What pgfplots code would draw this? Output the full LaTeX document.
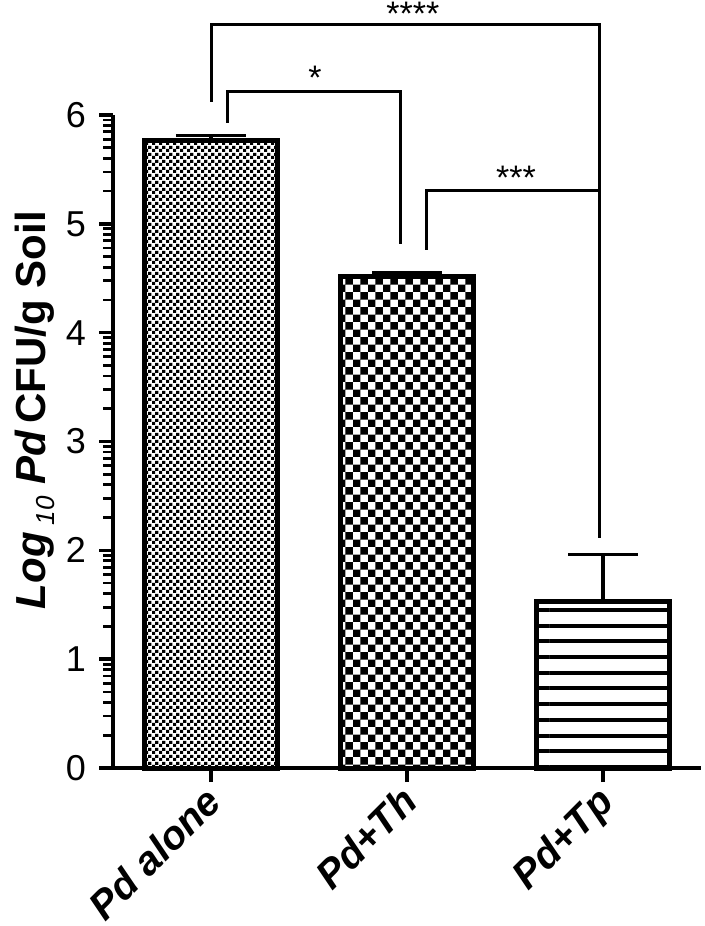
\documentclass[border=0pt]{standalone}
\usepackage{fontspec}
\setmainfont{Liberation Sans}
\usepackage{pgfplots}
\pgfplotsset{compat=1.18}
\usetikzlibrary{patterns}

% fill patterns of the three bars
\pgfdeclarepatternformonly{finecheck}{\pgfpointorigin}{\pgfqpoint{3.3pt}{3.3pt}}{\pgfqpoint{3.3pt}{3.3pt}}{%
  \pgfpathrectangle{\pgfpointorigin}{\pgfqpoint{1.65pt}{1.65pt}}%
  \pgfpathrectangle{\pgfqpoint{1.65pt}{1.65pt}}{\pgfqpoint{1.65pt}{1.65pt}}%
  \pgfusepath{fill}}
\pgfdeclarepatternformonly{coarsecheck}{\pgfpointorigin}{\pgfqpoint{7.7pt}{7.7pt}}{\pgfqpoint{7.7pt}{7.7pt}}{%
  \pgfpathrectangle{\pgfpointorigin}{\pgfqpoint{3.85pt}{3.85pt}}%
  \pgfpathrectangle{\pgfqpoint{3.85pt}{3.85pt}}{\pgfqpoint{3.85pt}{3.85pt}}%
  \pgfusepath{fill}}
\pgfdeclarepatternformonly{hlines}{\pgfqpoint{-0.1pt}{0pt}}{\pgfqpoint{7.95pt}{7.85pt}}{\pgfqpoint{7.85pt}{7.85pt}}{%
  \pgfpathrectangle{\pgfqpoint{-0.1pt}{0pt}}{\pgfqpoint{8.05pt}{2pt}}%
  \pgfusepath{fill}}

\begin{document}
\begin{tikzpicture}
\begin{axis}[
  at={(0,0)}, anchor=south west,
  scale only axis, width=294pt, height=326.5pt,
  xmin=-0.5, xmax=2.5, ymin=0, ymax=6,
  axis x line=bottom, axis y line=left,
  axis line style={-, line width=2.3pt},
  xtick={0,1,2}, xticklabels={Pd alone, Pd+Th, Pd+Tp},
  ytick={0,1,2,3,4,5,6},
  minor ytick={0.301,0.477,0.602,0.699,0.778,0.845,0.903,0.954,
    1.301,1.477,1.602,1.699,1.778,1.845,1.903,1.954,
    2.301,2.477,2.602,2.699,2.778,2.845,2.903,2.954,
    3.301,3.477,3.602,3.699,3.778,3.845,3.903,3.954,
    4.301,4.477,4.602,4.699,4.778,4.845,4.903,4.954,
    5.301,5.477,5.602,5.699,5.778,5.845,5.903,5.954},
  tick align=outside,
  major tick length=7pt, minor tick length=5pt,
  every major tick/.style={black, line width=1.8pt},
  every minor tick/.style={black, line width=1.4pt},
  x tick label style={xshift=-4pt, yshift=4pt, rotate=45, anchor=north east, font=\fontsize{20}{20}\selectfont\bfseries\itshape},
  y tick label style={xshift=-3pt, font=\fontsize{18}{18}\selectfont},
  /pgf/number format/assume math mode=true,
  ylabel={\textit{Log}\,\raisebox{-0.4ex}{\fontsize{13}{13}\selectfont\mdseries\itshape 10}\ \textit{Pd}\,CFU/g Soil},
  every axis y label/.style={at={(axis description cs:-0.115,0.548)}, rotate=90, anchor=base, font=\fontsize{21}{21}\selectfont\bfseries},
  clip=false,
  bar width=0.68,
]
\addplot[ybar, bar shift=0pt, draw=black, line width=2.5pt, pattern=finecheck,
  error bars/.cd, y dir=plus, y explicit,
  error bar style={line width=2pt, solid},
  error mark options={rotate=90, mark size=17.5pt, line width=1.7pt}]
  coordinates {(0,5.77) +- (0,0.04)};
\addplot[ybar, bar shift=0pt, draw=black, line width=2.5pt, pattern=coarsecheck,
  error bars/.cd, y dir=plus, y explicit,
  error bar style={line width=2pt, solid},
  error mark options={rotate=90, mark size=17.5pt, line width=1.7pt}]
  coordinates {(1,4.52) +- (0,0.03)};
\addplot[ybar, bar shift=0pt, draw=black, line width=2.5pt, pattern=hlines,
  error bars/.cd, y dir=plus, y explicit,
  error bar style={line width=2pt, solid},
  error mark options={rotate=90, mark size=17.5pt, line width=1.7pt}]
  coordinates {(2,1.53) +- (0,0.43)};

% significance brackets
\draw[line width=1.5pt] (axis cs:0,6.12) -- (axis cs:0,6.827) -- (axis cs:1.98,6.827) -- (axis cs:1.98,2.11);
\draw[line width=1.5pt] (axis cs:0.082,5.93) -- (axis cs:0.082,6.22) -- (axis cs:0.969,6.22) -- (axis cs:0.969,4.815);
\draw[line width=1.5pt] (axis cs:1.097,4.76) -- (axis cs:1.097,5.31) -- (axis cs:1.98,5.31);
\node[anchor=base, font=\fontsize{17}{17}\selectfont] at (axis cs:1.03,6.82) {****};
\node[anchor=base, font=\fontsize{17}{17}\selectfont] at (axis cs:0.531,6.23) {*};
\node[anchor=base, font=\fontsize{17}{17}\selectfont] at (axis cs:1.556,5.32) {***};
\end{axis}
\pgfresetboundingbox
\path[use as bounding box] (-56.5pt,-79pt) rectangle (296pt,384pt);
\end{tikzpicture}
\end{document}
